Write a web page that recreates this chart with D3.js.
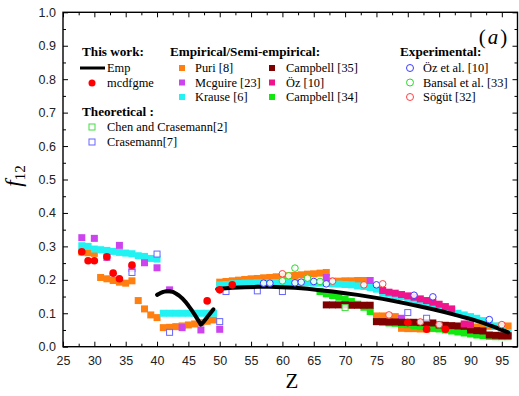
<!DOCTYPE html>
<html><head><meta charset="utf-8">
<script src="https://cdn.jsdelivr.net/npm/d3@7"></script>
<style>body{margin:0;background:#fff}svg{display:block}</style>
</head><body><svg id="c" width="519" height="396"></svg>
<script>
// ---------- DATA (Z, f12) ----------
const xTicks = [25,30,35,40,45,50,55,60,65,70,75,80,85,90,95];
const yTicks = [0,0.1,0.2,0.3,0.4,0.5,0.6,0.7,0.8,0.9,1.0];

const puri = [[28,0.283],[29,0.281],[30,0.279],[31,0.207],[32,0.203],[33,0.198],[34,0.193],[35,0.190],[36,0.197],
 [37,0.138],[38,0.113],[39,0.095],[40,0.087],[41,0.057],[42,0.058],[43,0.060],[44,0.062],[45,0.065],[46,0.068],[47,0.072],[48,0.076],[49,0.080],
 [50,0.193],[51,0.195],[52,0.197],[53,0.199],[54,0.201],[55,0.203],[56,0.204],[57,0.206],[58,0.207],[59,0.209],[60,0.210],[61,0.212],[62,0.213],
 [63,0.215],[64,0.217],[65,0.218],[66,0.220],[67,0.222],[68,0.196],[69,0.196],[70,0.197],[71,0.197],[72,0.198],[73,0.198],
 [75,0.092],[76,0.092],[77,0.091],[78,0.090],[79,0.055],[80,0.054],[81,0.054],[82,0.053],[83,0.053],[84,0.054],[85,0.055],[86,0.055],
 [87,0.056],[88,0.057],[89,0.057],[90,0.058],[91,0.059],[92,0.060],[93,0.061],[94,0.061],[95,0.062],[96,0.062]];

const krause = [[28,0.302],[29,0.300],[30,0.292],[31,0.290],[32,0.288],[33,0.285],[34,0.282],[35,0.280],[36,0.278],[37,0.272],[38,0.270],[39,0.264],[40,0.262],
 [41,0.100],[42,0.100],[43,0.100],[44,0.100],[45,0.100],[46,0.100],[47,0.100],[48,0.100],[49,0.100],
 [50,0.185],[51,0.186],[52,0.188],[53,0.189],[54,0.190],[55,0.190],[56,0.191],[57,0.191],[58,0.192],[59,0.192],[60,0.192],[61,0.192],[62,0.192],
 [63,0.191],[64,0.191],[65,0.190],[66,0.190],[67,0.190],[68,0.188],[69,0.187],[70,0.186],[71,0.185],[72,0.182],[73,0.180],[74,0.177],
 [75,0.172],[76,0.160],[77,0.157],[78,0.153],[79,0.150],[80,0.143],[81,0.138],[82,0.133],[83,0.128],[84,0.123],[85,0.118],[86,0.113],
 [87,0.108],[88,0.100],[89,0.095],[90,0.090],[91,0.085],[92,0.078],[93,0.070],[94,0.062],[95,0.052],[96,0.042]];

const mcguire = [[28,0.326],[30,0.324],[32,0.267],[34,0.303],[36,0.234],[38,0.251],[40,0.236],[42,0.170],[44,0.057],[47,0.050],[50,0.052],
 [67,0.207],[74,0.198],[79,0.085],[83,0.070]];

const campbell35 = [[67,0.125],[68,0.125],[69,0.125],[70,0.125],[71,0.124],[72,0.124],[73,0.124],[74,0.124],
 [75,0.075],[76,0.075],[77,0.074],[78,0.074],[79,0.073],[80,0.073],[81,0.073],[82,0.072],[83,0.072],[84,0.071],
 [85,0.065],[86,0.064],[87,0.063],[88,0.062],[89,0.061],[90,0.050],[91,0.048],[92,0.047],[93,0.035],[94,0.034],[95,0.033],[96,0.033]];

const oz = [[76,0.168],[77,0.163],[78,0.160],[79,0.156],[80,0.152],[81,0.148],[82,0.143],[83,0.138],[84,0.133],[85,0.127],[86,0.120],[87,0.113],
 [89,0.068],[90,0.066]];

const campbell34 = [[66,0.165],[67,0.158],[68,0.153],[69,0.148],[70,0.142],[71,0.135],[72,0.127],[73,0.118],[74,0.105],
 [75,0.075],[76,0.073],[77,0.071],[78,0.070],[79,0.068],[80,0.066],[81,0.063],[82,0.060],[83,0.058],[84,0.056],[85,0.053],
 [86,0.050],[87,0.047],[88,0.044],[89,0.041],[90,0.038],[91,0.035],[92,0.033],[93,0.031],[94,0.030],[95,0.030],[96,0.030]];

const chen = [[70,0.117]];
const crasemann = [[36,0.222],[40,0.277],[42,0.043],[50,0.075],[51,0.165],[56,0.167],[60,0.165],[80,0.102],[83,0.085]];

const empA = [[40,0.155],[40.5,0.160],[41,0.164],[41.5,0.166],[42,0.166],[42.5,0.164],[43,0.159],[43.5,0.153],[44,0.145],[44.5,0.135],
 [45,0.123],[45.5,0.110],[46,0.096],[46.5,0.081],[47,0.066],[47.5,0.076],[48,0.088],[48.5,0.100],[49,0.112]];
const empB = [[49.6,0.172],[50,0.173],[52,0.176],[54,0.178],[56,0.179],[58,0.179],[60,0.178],[62,0.176],[64,0.173],[66,0.169],[68,0.165],
 [70,0.160],[72,0.155],[74,0.149],[76,0.143],[78,0.136],[80,0.128],[82,0.120],[84,0.112],[86,0.103],[88,0.093],[90,0.083],
 [92,0.071],[94,0.058],[96,0.043]];

const mcdfgme = [[28,0.284],[29,0.257],[30,0.257],[32,0.269],[33,0.220],[34,0.203],[36,0.244],[48,0.137],[50,0.170],[52,0.185],
 [80,0.072],[83,0.052],[86,0.052]];

const ozExp = [[57,0.190],[58,0.190],[62,0.191],[63,0.193],[65,0.195],[67,0.188],[75,0.185],[81,0.154],[84,0.149],[93,0.081]];
const bansal = [[60,0.197],[61,0.212],[62,0.235],[64,0.205],[66,0.195]];
const sogut = [[60,0.218],[68,0.196],[73,0.185],[76,0.188],[77,0.095],[82,0.074],[85,0.066],[95,0.066]];

// ---------- CHART ----------
const SERIF = "'Liberation Serif','Times New Roman',serif";
const SANS = "'Liberation Sans',Arial,sans-serif";
const svg = d3.select("#c");
const L = 63, R = 517.5, T = 12.3, B = 346.7;
const x = d3.scaleLinear().domain([25, 97.5]).range([L, R]);
const y = d3.scaleLinear().domain([0, 1]).range([B, T]);

svg.append("defs").append("clipPath").attr("id","clip")
  .append("rect").attr("x",L).attr("y",T).attr("width",R-L).attr("height",B-T);

const plot = svg.append("g").attr("clip-path","url(#clip)");

function squares(data, color, size) {
  plot.append("g").selectAll("rect").data(data).join("rect")
    .attr("x", d => x(d[0]) - size/2).attr("y", d => y(d[1]) - size/2)
    .attr("width", size).attr("height", size).attr("fill", color);
}
function openSquares(data, color) {
  plot.append("g").selectAll("rect").data(data).join("rect")
    .attr("x", d => x(d[0]) - 3).attr("y", d => y(d[1]) - 3)
    .attr("width", 6).attr("height", 6).attr("fill", "#fff").attr("fill-opacity",0.85)
    .attr("stroke", color).attr("stroke-width", 1);
}
function circles(data, fill, stroke, r) {
  plot.append("g").selectAll("circle").data(data).join("circle")
    .attr("cx", d => x(d[0])).attr("cy", d => y(d[1])).attr("r", r)
    .attr("fill", fill).attr("fill-opacity", fill === "#fff" ? 0.85 : 1)
    .attr("stroke", stroke).attr("stroke-width", stroke === "none" ? 0 : 1);
}

const C = {puri:"#FF8010", mcguire:"#CC44EE", krause:"#22F2F2", c35:"#800000", oz:"#F0148C", c34:"#10E810",
  chen:"#44DD44", cras:"#6666FF", ozExp:"#3B3BFF", bansal:"#22DD22", sogut:"#FF4040", red:"#FF0000"};

squares(puri, C.puri, 7);
squares(krause, C.krause, 7);
squares(mcguire, C.mcguire, 7);
squares(campbell34, C.c34, 7);
squares(campbell35, C.c35, 7);
squares(oz, C.oz, 7);
openSquares(chen, C.chen);
openSquares(crasemann, C.cras);

const line = d3.line().x(d => x(d[0])).y(d => y(d[1])).curve(d3.curveLinear);
[empA, empB].forEach(s => plot.append("path").attr("d", line(s)).attr("fill","none")
  .attr("stroke","#000").attr("stroke-width",4).attr("stroke-linejoin","round").attr("stroke-linecap","round"));

circles(mcdfgme, C.red, "none", 3.8);
circles(ozExp, "#fff", C.ozExp, 3.3);
circles(bansal, "#fff", C.bansal, 3.3);
circles(sogut, "#fff", C.sogut, 3.3);

// ---------- AXES ----------
const minorX = d3.range(27.5, 97, 5);
const minorY = d3.range(0.05, 1, 0.1);
function styleAxis(g){ g.select(".domain").remove(); g.selectAll("line").attr("stroke","#000").attr("stroke-width",1); }

svg.append("g").attr("transform",`translate(0,${B})`)
  .call(d3.axisBottom(x).tickValues(xTicks).tickSizeInner(-5).tickSizeOuter(0).tickPadding(9).tickFormat(d3.format("d")))
  .call(styleAxis).call(g => g.selectAll("text").attr("font-family",SANS).attr("font-size",12.5).attr("fill","#222"));
svg.append("g").attr("transform",`translate(0,${B})`)
  .call(d3.axisBottom(x).tickValues(minorX).tickSizeInner(-3).tickSizeOuter(0).tickFormat("")).call(styleAxis);
svg.append("g").attr("transform",`translate(0,${T})`)
  .call(d3.axisTop(x).tickValues(xTicks).tickSizeInner(-5).tickSizeOuter(0).tickFormat("")).call(styleAxis);
svg.append("g").attr("transform",`translate(0,${T})`)
  .call(d3.axisTop(x).tickValues(minorX).tickSizeInner(-3).tickSizeOuter(0).tickFormat("")).call(styleAxis);

svg.append("g").attr("transform",`translate(${L},0)`)
  .call(d3.axisLeft(y).tickValues(yTicks).tickSizeInner(-5).tickSizeOuter(0).tickPadding(7).tickFormat(d3.format(".1f")))
  .call(styleAxis).call(g => g.selectAll("text").attr("font-family",SANS).attr("font-size",12.5).attr("fill","#222"));
svg.append("g").attr("transform",`translate(${L},0)`)
  .call(d3.axisLeft(y).tickValues(minorY).tickSizeInner(-3).tickSizeOuter(0).tickFormat("")).call(styleAxis);
svg.append("g").attr("transform",`translate(${R},0)`)
  .call(d3.axisRight(y).tickValues(yTicks).tickSizeInner(-5).tickSizeOuter(0).tickFormat("")).call(styleAxis);
svg.append("g").attr("transform",`translate(${R},0)`)
  .call(d3.axisRight(y).tickValues(minorY).tickSizeInner(-3).tickSizeOuter(0).tickFormat("")).call(styleAxis);

svg.append("rect").attr("x",L).attr("y",T).attr("width",R-L).attr("height",B-T)
  .attr("fill","none").attr("stroke","#000").attr("stroke-width",1.4);

// axis titles
svg.append("text").attr("x", 292).attr("y", 388).attr("text-anchor","middle")
  .attr("font-family",SERIF).attr("font-size",21).text("Z");
const yl = svg.append("text").attr("transform","translate(21,176) rotate(-90)").attr("text-anchor","middle")
  .attr("font-family",SERIF).attr("font-size",23);
yl.append("tspan").attr("font-style","italic").text("f");
yl.append("tspan").attr("font-size",15).attr("dy",4).text("12");

// panel label
const pa = svg.append("text").attr("x", 493).attr("y", 44).attr("text-anchor","middle")
  .attr("font-family",SERIF).attr("font-size",21);
pa.append("tspan").text("(");
pa.append("tspan").attr("font-style","italic").attr("dx",2).text("a");
pa.append("tspan").attr("dx",2).text(")");

// ---------- LEGEND ----------
const lg = svg.append("g").attr("font-family",SERIF).attr("font-size",12.4).attr("fill","#000");
function head(tx, ty, s){ lg.append("text").attr("x",tx).attr("y",ty).attr("font-weight","bold").attr("font-size",13.2).text(s); }
function label(tx, ty, s){ lg.append("text").attr("x",tx).attr("y",ty+4).text(s); }
function lsq(cx, cy, color){ lg.append("rect").attr("x",cx-3).attr("y",cy-3).attr("width",6).attr("height",6).attr("fill",color); }
function losq(cx, cy, color){ lg.append("rect").attr("x",cx-3).attr("y",cy-3).attr("width",6).attr("height",6).attr("fill","none").attr("stroke",color); }
function lcirc(cx, cy, fill, stroke){ lg.append("circle").attr("cx",cx).attr("cy",cy).attr("r",3.5).attr("fill",fill).attr("stroke",stroke); }

head(82, 56, "This work:");
lg.append("line").attr("x1",80).attr("x2",105).attr("y1",68).attr("y2",68).attr("stroke","#000").attr("stroke-width",3);
label(107, 68, "Emp");
lcirc(92, 83, C.red, "none"); label(107, 83, "mcdfgme");
head(82, 116, "Theoretical :");
losq(92, 127, C.chen); label(107, 127, "Chen and Crasemann[2]");
losq(92, 142, C.cras); label(107, 142, "Crasemann[7]");

head(170, 56, "Empirical/Semi-empirical:");
lsq(182, 68, C.puri); label(195, 68, "Puri [8]");
lsq(182, 82.5, C.mcguire); label(195, 82.5, "Mcguire [23]");
lsq(182, 97, C.krause); label(195, 97, "Krause [6]");
lsq(272, 68, C.c35); label(286, 68, "Campbell [35]");
lsq(272, 82.5, C.oz); label(286, 82.5, "Öz [10]");
lsq(272, 97, C.c34); label(286, 97, "Campbell [34]");

head(400, 56, "Experimental:");
lcirc(410, 68, "none", C.ozExp); label(423, 68, "Öz et al. [10]");
lcirc(410, 82.5, "none", C.bansal); label(423, 82.5, "Bansal et al. [33]");
lcirc(410, 97, "none", C.sogut); label(423, 97, "Sögüt [32]");
</script></body></html>
